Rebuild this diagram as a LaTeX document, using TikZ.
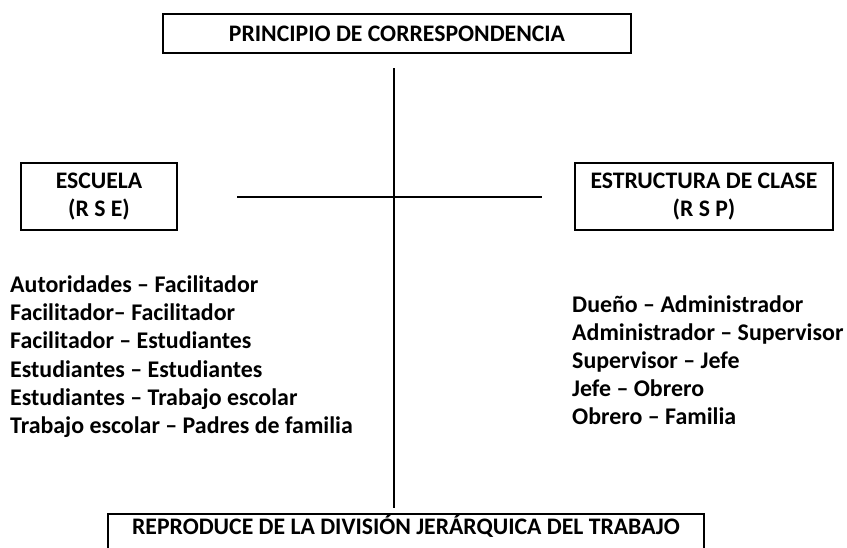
\documentclass[tikz,border=0pt]{standalone}
\usepackage{fontspec}
\setmainfont{Carlito}
\begin{document}
\begin{tikzpicture}[x=1pt,y=-1pt,
  box/.style={draw=black,line width=1.5pt,rectangle,inner sep=0pt,align=center,
    font=\bfseries\fontsize{23.7}{28}\selectfont},
  ln/.style={inner sep=0pt,anchor=base west,
    font=\bfseries\fontsize{23.9}{28}\selectfont},
  conn/.style={line width=2pt,black}]
\clip (0,0) rectangle (847,547);
\fill[white] (0,0) rectangle (847,547);
\node[box,minimum width=468pt,minimum height=39pt] (top) at (397,33.5) {PRINCIPIO DE CORRESPONDENCIA};
\node[box,minimum width=156pt,minimum height=67pt] (esc) at (99,196.5) {ESCUELA\\(R S E)};
\node[box,minimum width=258pt,minimum height=67pt] (est) at (704,196.5) {ESTRUCTURA DE CLASE\\(R S P)};
\node[box,minimum width=596pt,minimum height=36pt,text height=16pt,text depth=12pt] (bot) at (406,532) {REPRODUCE DE LA DIVISIÓN JERÁRQUICA DEL TRABAJO};
\coordinate (vtop) at (394,68);
\coordinate (vbot) at (394,508);
\coordinate (hl) at (237,197);
\coordinate (hr) at (542,197);
\draw[conn] (vtop) -- (vbot);
\draw[conn] (hl) -- (hr);
\node[ln] (l1) at (10,292) {Autoridades – Facilitador};
\node[ln] (l2) at (10,320.3) {Facilitador– Facilitador};
\node[ln] (l3) at (10,348.6) {Facilitador – Estudiantes};
\node[ln] (l4) at (10,377) {Estudiantes – Estudiantes};
\node[ln] (l5) at (10,405.2) {Estudiantes – Trabajo escolar};
\node[ln] (l6) at (10,433.5) {Trabajo escolar – Padres de familia};
\node[ln] (r1) at (572,312) {Dueño – Administrador};
\node[ln] (r2) at (572,340) {Administrador – Supervisor};
\node[ln] (r3) at (572,368.5) {Supervisor – Jefe};
\node[ln] (r4) at (572,396.8) {Jefe – Obrero};
\node[ln] (r5) at (572,424.5) {Obrero – Familia};
\end{tikzpicture}
\end{document}
